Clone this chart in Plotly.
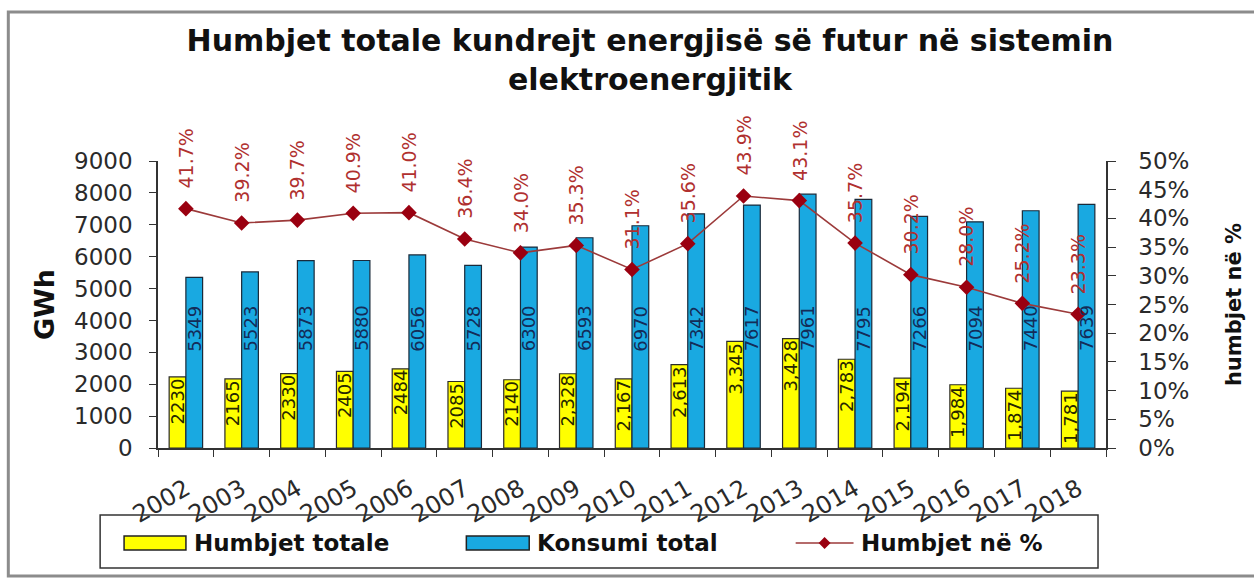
import plotly.graph_objects as go

# ---- data -------------------------------------------------------------
years = [str(y) for y in range(2002, 2019)]
humbjet_totale = [2230, 2165, 2330, 2405, 2484, 2085, 2140, 2328, 2167,
                  2613, 3345, 3428, 2783, 2194, 1984, 1874, 1781]
konsumi_total = [5349, 5523, 5873, 5880, 6056, 5728, 6300, 6593, 6970,
                 7342, 7617, 7961, 7795, 7266, 7094, 7440, 7639]
humbjet_pct = [41.7, 39.2, 39.7, 40.9, 41.0, 36.4, 34.0, 35.3, 31.1,
               35.6, 43.9, 43.1, 35.7, 30.2, 28.0, 25.2, 23.3]
gwh_ticks = list(range(0, 9001, 1000))
pct_ticks = [i / 100 for i in range(0, 51, 5)]

# from 2009 on the losses are printed with a thousands separator
humbjet_text = [f"{v:,}" if int(y) >= 2009 else str(v)
                for y, v in zip(years, humbjet_totale)]
konsumi_text = [str(v) for v in konsumi_total]
pct_text = [f"{p:.1f}%" for p in humbjet_pct]

# ---- layout geometry (pixels) ----------------------------------------
W, H = 1254, 578
ML, MR, MT, MB = 158, 146, 161, 130
PW, PH = W - ML - MR, H - MT - MB
BARGAP = 0.40
bar_w_px = PW / len(years) * (1 - BARGAP) / 2
KONSUMI_LABEL_LEVEL = 3750  # GWh level of the consumption labels


def px(x):
    return (x - ML) / PW


def py(y):
    return (H - MB - y) / PH


YELLOW = "#FFFF00"
BLUE = "#19A9E1"
LINE_RED = "#9C3A3A"
MARK_RED = "#9A0010"
TEXT_RED = "#B0302F"
AXIS_COL = "#333333"
FONT = "DejaVu Sans, Verdana, sans-serif"

fig = go.Figure()

fig.add_trace(go.Bar(
    x=years, y=humbjet_totale, name="Humbjet totale",
    marker=dict(color=YELLOW, line=dict(color="#2b2b2b", width=1.2)),
    showlegend=False,
))
fig.add_trace(go.Bar(
    x=years, y=konsumi_total, name="Konsumi total",
    marker=dict(color=BLUE, line=dict(color="#1a2a3a", width=1.2)),
    showlegend=False,
))
fig.add_trace(go.Scatter(
    x=years, y=[p / 100 for p in humbjet_pct], yaxis="y2",
    name="Humbjet në %", mode="lines+markers",
    line=dict(color=LINE_RED, width=1.6),
    marker=dict(symbol="diamond", size=12, color=MARK_RED),
    showlegend=False,
))

annotations = []
# loss labels, hanging from the top of the yellow bars
for i, (v, t) in enumerate(zip(humbjet_totale, humbjet_text)):
    annotations.append(dict(
        x=i, y=v, xref="x", yref="y", text=t, textangle=-90,
        showarrow=False, yanchor="top", yshift=1, xshift=-bar_w_px / 2,
        font=dict(family=FONT, size=18, color="#262600"),
    ))
# consumption labels inside the blue bars
for i, t in enumerate(konsumi_text):
    annotations.append(dict(
        x=i, y=KONSUMI_LABEL_LEVEL, xref="x", yref="y", text=t,
        textangle=-90, showarrow=False, xshift=bar_w_px / 2,
        font=dict(family=FONT, size=18, color="#142c58"),
    ))
# percentage labels above the line markers
for i, (p, t) in enumerate(zip(humbjet_pct, pct_text)):
    annotations.append(dict(
        x=i, y=p / 100, xref="x", yref="y2", text=t, textangle=-90,
        showarrow=False, yanchor="bottom", yshift=18,
        font=dict(family=FONT, size=19, color=TEXT_RED),
    ))

# legend drawn as a framed box under the axis
LEG_Y = 543
legend_items = [
    ("bar", YELLOW, 124, 186, "Humbjet totale", 192),
    ("bar", BLUE, 467, 530, "Konsumi total", 536),
    ("line", MARK_RED, 797, 855, "Humbjet në %", 860),
]
shapes = [
    dict(type="rect", xref="paper", yref="paper",
         x0=px(8), x1=px(1262), y0=py(576), y1=py(12),
         line=dict(color="#8c8c8c", width=3), layer="below"),
    dict(type="rect", xref="paper", yref="paper",
         x0=px(100), x1=px(1100), y0=py(568), y1=py(515),
         line=dict(color=AXIS_COL, width=1.5)),
]
for kind, col, x0, x1, label, tx in legend_items:
    if kind == "bar":
        shapes.append(dict(type="rect", xref="paper", yref="paper",
                           x0=px(x0), x1=px(x1), y0=py(LEG_Y + 7),
                           y1=py(LEG_Y - 7), fillcolor=col,
                           line=dict(color="#222222", width=1.5)))
    else:
        shapes.append(dict(type="line", xref="paper", yref="paper",
                           x0=px(x0), x1=px(x1), y0=py(LEG_Y), y1=py(LEG_Y),
                           line=dict(color=LINE_RED, width=1.6)))
        cx = (x0 + x1) / 2
        d = 6
        path = (f"M {px(cx - d)} {py(LEG_Y)} L {px(cx)} {py(LEG_Y - d)} "
                f"L {px(cx + d)} {py(LEG_Y)} L {px(cx)} {py(LEG_Y + d)} Z")
        shapes.append(dict(type="path", xref="paper", yref="paper",
                           path=path, fillcolor=col, line=dict(width=0)))
    annotations.append(dict(
        x=px(tx), y=py(LEG_Y), xref="paper", yref="paper", text=label,
        showarrow=False, xanchor="left", yanchor="middle",
        font=dict(family=FONT, size=23, color="#111111", weight="bold"),
    ))

axis_font = dict(family=FONT, size=23, color="#2a2a2a")

fig.update_layout(
    width=W, height=H,
    margin=dict(l=ML, r=MR, t=MT, b=MB, pad=0),
    paper_bgcolor="white", plot_bgcolor="white",
    barmode="group", bargap=BARGAP, bargroupgap=0,
    title=dict(
        text="Humbjet totale kundrejt energjisë së futur në sistemin<br>"
             "elektroenergjitik",
        x=650 / W, xanchor="center",
        y=1 - 51 / H, yanchor="top",
        font=dict(family=FONT, size=30, color="#111111", weight="bold"),
    ),
    xaxis=dict(
        type="category", range=[-0.5, len(years) - 0.5],
        tickangle=-30, tickson="boundaries",
        ticks="outside", ticklen=7, tickcolor=AXIS_COL,
        ticklabelshift=0, ticklabelstandoff=16,
        showline=True, linecolor=AXIS_COL, linewidth=1.5,
        tickfont=dict(family=FONT, size=24, color="#2a2a2a"),
        showgrid=False, zeroline=False,
    ),
    yaxis=dict(
        range=[0, 9000], tickvals=gwh_ticks, tickfont=axis_font,
        ticks="outside", ticklen=7, tickcolor=AXIS_COL,
        ticklabelstandoff=12,
        showline=True, linecolor=AXIS_COL, linewidth=1.5,
        showgrid=False, zeroline=False,
        title=dict(text="GWh", standoff=12,
                   font=dict(family=FONT, size=27, color="#111111",
                             weight="bold")),
    ),
    yaxis2=dict(
        range=[0, 0.5], tickvals=pct_ticks, tickformat=".0%",
        overlaying="y", side="right", tickfont=axis_font,
        ticks="outside", ticklen=8, tickcolor=AXIS_COL,
        ticklabelstandoff=18,
        showline=True, linecolor=AXIS_COL, linewidth=1.5,
        showgrid=False, zeroline=False,
        title=dict(text="humbjet në %", standoff=38,
                   font=dict(family=FONT, size=21, color="#111111",
                             weight="bold")),
    ),
    annotations=annotations,
    shapes=shapes,
)

fig.write_html("out.html")
